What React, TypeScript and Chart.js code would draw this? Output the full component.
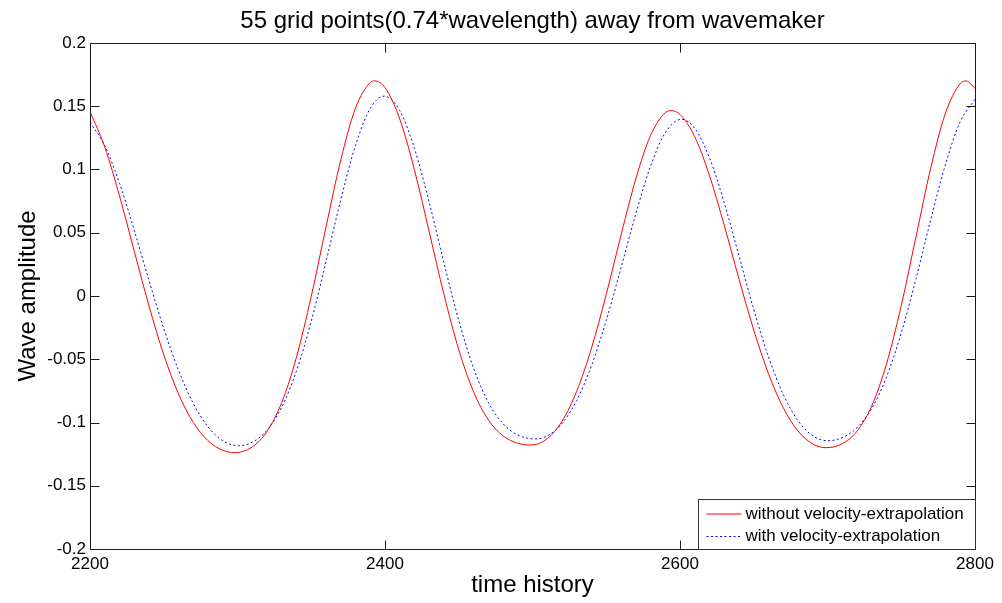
import React, { useEffect, useRef } from "react";
import { Chart, registerables } from "chart.js";

Chart.register(...registerables);

const redTimes = [
  2200, 2210, 2220, 2230, 2240, 2250, 2260, 2270, 2280, 2290, 2298,
  2310, 2320, 2330, 2340, 2350, 2360, 2370, 2380, 2390, 2393,
  2400, 2410, 2420, 2430, 2440, 2450, 2460, 2470, 2480, 2490, 2499,
  2510, 2520, 2530, 2540, 2550, 2560, 2570, 2580, 2590, 2594,
  2600, 2610, 2620, 2630, 2640, 2650, 2660, 2670, 2680, 2690, 2699,
  2710, 2720, 2730, 2740, 2750, 2760, 2770, 2780, 2790, 2794, 2800,
];
const redValues = [
  0.1458, 0.1177, 0.0791, 0.0354, -0.0079, -0.0464, -0.0774, -0.0999, -0.1144, -0.122, -0.1238,
  -0.1193, -0.107, -0.0841, -0.0482, -0.0003, 0.0545, 0.1075, 0.1486, 0.1688, 0.17,
  0.1647, 0.1399, 0.0995, 0.0505, 0.001, -0.0424, -0.0756, -0.0978, -0.1105, -0.1164, -0.1178,
  -0.1128, -0.099, -0.0752, -0.0412, 0.0013, 0.0481, 0.0925, 0.1269, 0.1449, 0.1465,
  0.1435, 0.1259, 0.0951, 0.0558, 0.0134, -0.0269, -0.0615, -0.0883, -0.1067, -0.117, -0.1199,
  -0.1168, -0.1069, -0.0868, -0.0537, -0.0076, 0.0469, 0.1012, 0.1447, 0.1679, 0.17, 0.164,
];

const blueTimes = [
  2200, 2210, 2220, 2230, 2240, 2250, 2260, 2270, 2280, 2290, 2300.5,
  2310, 2320, 2330, 2340, 2350, 2360, 2370, 2380, 2390, 2399.5,
  2410, 2420, 2430, 2440, 2450, 2460, 2470, 2480, 2490, 2502,
  2510, 2520, 2530, 2540, 2550, 2560, 2570, 2580, 2590, 2601,
  2610, 2620, 2630, 2640, 2650, 2660, 2670, 2680, 2690, 2700,
  2710, 2720, 2730, 2740, 2750, 2760, 2770, 2780, 2790, 2800,
];
const blueValues = [
  0.1373, 0.1189, 0.0891, 0.052, 0.0123, -0.0257, -0.0587, -0.0849, -0.1034, -0.1144, -0.1183,
  -0.1156, -0.1061, -0.0878, -0.0591, -0.0199, 0.0271, 0.076, 0.119, 0.1483, 0.158,
  0.1465, 0.1166, 0.0739, 0.026, -0.0194, -0.0569, -0.084, -0.1009, -0.1098, -0.113,
  -0.1106, -0.1008, -0.0824, -0.055, -0.0193, 0.0222, 0.0648, 0.1025, 0.129, 0.1397,
  0.1325, 0.1092, 0.0736, 0.0316, -0.0106, -0.0481, -0.0778, -0.0986, -0.1105, -0.1144,
  -0.112, -0.1041, -0.0888, -0.0641, -0.0293, 0.0136, 0.0603, 0.1041, 0.1379, 0.1554,
];

const xTickValues = [2200, 2400, 2600, 2800];
const xTickLabels = ["2200", "2400", "2600", "2800"];
const yTickValues = [-0.2, -0.15, -0.1, -0.05, 0, 0.05, 0.1, 0.15, 0.2];
const yTickLabels = ["-0.2", "-0.15", "-0.1", "-0.05", "0", "0.05", "0.1", "0.15", "0.2"];
const seriesLabels = ["without velocity-extrapolation", "with velocity-extrapolation"];
const titleText = "55 grid points(0.74*wavelength) away from wavemaker";
const xTitle = "time history";
const yTitle = "Wave amplitude";

const FONT = '"Liberation Sans", Arial, Helvetica, sans-serif';
const RED = "#ff0000";
const BLUE = "#0000ff";
const BLUE_DASH = [2, 2.5];

const matlabPlugin = {
  id: "matlabDecor",
  afterDatasetsDraw(chart: any) {
    const { ctx, chartArea: a, scales } = chart;
    const L = Math.round(a.left) + 0.5;
    const R = Math.round(a.right) + 0.5;
    const T = Math.round(a.top) + 0.5;
    const B = Math.round(a.bottom) + 0.5;
    const tl = 9;
    ctx.save();
    ctx.strokeStyle = "#1a1a1a";
    ctx.lineWidth = 1;
    ctx.setLineDash([]);
    ctx.beginPath();
    ctx.moveTo(L, T);
    ctx.lineTo(R, T);
    ctx.lineTo(R, B);
    ctx.lineTo(L, B);
    ctx.closePath();
    ctx.stroke();
    ctx.beginPath();
    for (const v of yTickValues) {
      const y = Math.round(scales.y.getPixelForValue(v)) + 0.5;
      ctx.moveTo(L, y);
      ctx.lineTo(L + tl, y);
      ctx.moveTo(R, y);
      ctx.lineTo(R - tl, y);
    }
    for (const v of xTickValues) {
      const x = Math.round(scales.x.getPixelForValue(v)) + 0.5;
      ctx.moveTo(x, B);
      ctx.lineTo(x, B - tl);
      ctx.moveTo(x, T);
      ctx.lineTo(x, T + tl);
    }
    ctx.stroke();

    // legend box inside lower-right corner
    const lw = 277;
    const lh = 50;
    const lx = R - lw;
    const ly = B - lh;
    ctx.fillStyle = "#ffffff";
    ctx.fillRect(lx, ly, lw, lh);
    ctx.strokeStyle = "#333333";
    ctx.strokeRect(lx, ly, lw, lh);
    const rows = [ly + 14.5, ly + 37];
    const colors = [RED, BLUE];
    const dashes = [[], BLUE_DASH];
    ctx.font = `17px ${FONT}`;
    ctx.textBaseline = "middle";
    ctx.textAlign = "left";
    for (let i = 0; i < 2; i++) {
      ctx.strokeStyle = colors[i];
      ctx.setLineDash(dashes[i]);
      ctx.beginPath();
      ctx.moveTo(lx + 8, rows[i]);
      ctx.lineTo(lx + 43, rows[i]);
      ctx.stroke();
      ctx.setLineDash([]);
      ctx.fillStyle = "#000000";
      ctx.fillText(seriesLabels[i], lx + 47, rows[i]);
    }
    ctx.restore();
  },
  afterDraw(chart: any) {
    const { ctx, chartArea: a } = chart;
    const cx = (a.left + a.right) / 2;
    ctx.save();
    ctx.fillStyle = "#000000";
    ctx.font = `24px ${FONT}`;
    ctx.textAlign = "center";
    ctx.textBaseline = "middle";
    ctx.fillText(titleText, cx, 21);
    ctx.fillText(xTitle, cx, 585);
    ctx.translate(28, (a.top + a.bottom) / 2);
    ctx.rotate(-Math.PI / 2);
    ctx.fillText(yTitle, 0, 0);
    ctx.restore();
  },
};

export default function App() {
  const canvasRef = useRef<HTMLCanvasElement | null>(null);

  useEffect(() => {
    const canvas = canvasRef.current;
    if (!canvas) return;
    const redData = redTimes.map((t, i) => ({ x: t, y: redValues[i] }));
    const blueData = blueTimes.map((t, i) => ({ x: t, y: blueValues[i] }));
    const chart = new Chart(canvas, {
      type: "line",
      data: {
        datasets: [
          {
            label: seriesLabels[0],
            data: redData,
            borderColor: RED,
            borderWidth: 1,
            pointRadius: 0,
            fill: false,
            cubicInterpolationMode: "monotone",
          },
          {
            label: seriesLabels[1],
            data: blueData,
            borderColor: BLUE,
            borderWidth: 1,
            borderDash: BLUE_DASH,
            pointRadius: 0,
            fill: false,
            cubicInterpolationMode: "monotone",
          },
        ],
      },
      options: {
        animation: false,
        responsive: false,
        devicePixelRatio: 1,
        layout: { padding: { top: 43, right: 27, left: 0, bottom: 0 } },
        plugins: {
          legend: { display: false },
          title: { display: false },
          tooltip: { enabled: false },
        },
        scales: {
          x: {
            type: "linear",
            min: 2200,
            max: 2800,
            grid: { display: false, drawTicks: false },
            border: { display: false },
            ticks: {
              color: "#000000",
              font: { family: FONT, size: 17 },
              padding: 5,
              maxRotation: 0,
              autoSkip: false,
              callback: (v: any) => {
                const i = xTickValues.indexOf(Number(v));
                return i >= 0 ? xTickLabels[i] : "";
              },
            },
            afterBuildTicks: (s: any) => {
              s.ticks = xTickValues.map((v) => ({ value: v }));
            },
            afterFit: (s: any) => {
              s.height = 54;
            },
          },
          y: {
            type: "linear",
            min: -0.2,
            max: 0.2,
            grid: { display: false, drawTicks: false },
            border: { display: false },
            ticks: {
              color: "#000000",
              font: { family: FONT, size: 17 },
              padding: 4,
              autoSkip: false,
              callback: (v: any) => {
                const i = yTickValues.findIndex((t) => Math.abs(t - Number(v)) < 1e-9);
                return i >= 0 ? yTickLabels[i] : "";
              },
            },
            afterBuildTicks: (s: any) => {
              s.ticks = yTickValues.map((v) => ({ value: v }));
            },
            afterFit: (s: any) => {
              s.width = 90;
            },
          },
        },
      },
      plugins: [matlabPlugin],
    });
    return () => chart.destroy();
  }, []);

  return (
    <div style={{ position: "fixed", left: 0, top: 0, width: 1002, height: 603, background: "#ffffff" }}>
      <canvas ref={canvasRef} width={1002} height={603} style={{ display: "block" }} />
    </div>
  );
}
